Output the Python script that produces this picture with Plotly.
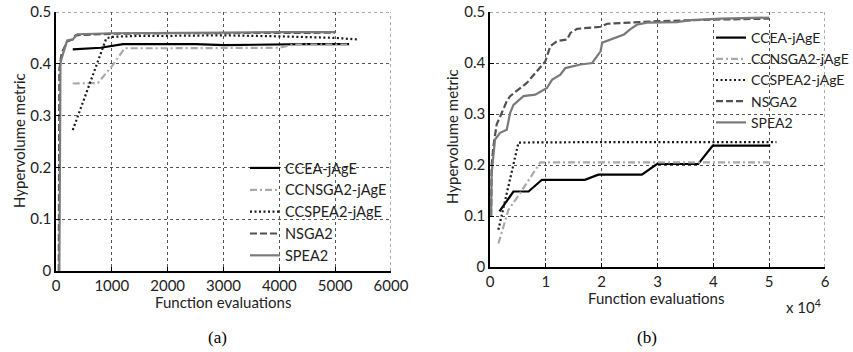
import plotly.graph_objects as go

# ---- data: panel (a) ----
ccea_a_x = [300, 800, 1200, 2000, 2500, 3000, 3500, 4000, 4500, 5250]
ccea_a_y = [0.428, 0.431, 0.438, 0.438, 0.438, 0.436, 0.437, 0.437, 0.438, 0.438]
ccnsga2_a_x = [300, 750, 1000, 1230, 2000, 3000, 4000, 4250, 5250]
ccnsga2_a_y = [0.362, 0.363, 0.395, 0.430, 0.430, 0.430, 0.431, 0.437, 0.437]
ccspea2_a_x = [300, 900, 1000, 1500, 2000, 3000, 4000, 5000, 5400]
ccspea2_a_y = [0.272, 0.449, 0.452, 0.454, 0.454, 0.455, 0.453, 0.450, 0.447]
nsga2_a_x = [50, 60, 100, 150, 200, 300, 350, 500, 1000, 2000, 3000, 4000, 5000]
nsga2_a_y = [0.0, 0.39, 0.42, 0.43, 0.443, 0.447, 0.455, 0.456, 0.458, 0.459, 0.459, 0.459, 0.460]
spea2_a_x = [60, 80, 100, 200, 300, 380, 1000, 2000, 3000, 4000, 5000]
spea2_a_y = [0.0, 0.40, 0.41, 0.445, 0.447, 0.457, 0.459, 0.459, 0.460, 0.461, 0.461]

# ---- data: panel (b) ----
ccea_b_x = [1700, 4200, 6900, 9300, 17000, 19400, 27200, 29900, 37300, 39900, 50200]
ccea_b_y = [0.109, 0.148, 0.148, 0.171, 0.171, 0.181, 0.181, 0.202, 0.202, 0.238, 0.238]
ccnsga2_b_x = [1500, 3300, 5400, 9000, 20000, 30000, 40000, 50200]
ccnsga2_b_y = [0.046, 0.112, 0.145, 0.205, 0.205, 0.205, 0.205, 0.205]
ccspea2_b_x = [1500, 5100, 20000, 40000, 51300]
ccspea2_b_y = [0.073, 0.244, 0.245, 0.245, 0.245]
nsga2_b_x = [200, 300, 600, 1200, 2100, 3000, 3600, 4800, 6600, 8400, 9900, 10800,
             12000, 13800, 14400, 15600, 19800, 21000, 30000, 40000, 50000]
nsga2_b_y = [0.10, 0.20, 0.236, 0.28, 0.302, 0.325, 0.335, 0.345, 0.361, 0.384, 0.403, 0.433,
             0.443, 0.446, 0.459, 0.467, 0.471, 0.477, 0.482, 0.485, 0.487]
spea2_b_x = [200, 300, 900, 1800, 3000, 3600, 4200, 6000, 8100, 10200, 11100, 12600, 13500,
             16200, 18300, 19800, 20100, 22200, 24000, 25100, 26300, 28100, 33500, 35900,
             41300, 50000]
spea2_b_y = [0.10, 0.184, 0.25, 0.263, 0.269, 0.302, 0.318, 0.335, 0.338, 0.351, 0.367, 0.377,
             0.39, 0.397, 0.40, 0.423, 0.44, 0.448, 0.456, 0.466, 0.475, 0.479, 0.48, 0.484,
             0.487, 0.489]

names = ["CCEA-jAgE", "CCNSGA2-jAgE", "CCSPEA2-jAgE", "NSGA2", "SPEA2"]
x_ticks_a = [0, 1000, 2000, 3000, 4000, 5000, 6000]
x_ticks_b = [0, 10000, 20000, 30000, 40000, 50000, 60000]
x_ticktext_b = ["0", "1", "2", "3", "4", "5", "6"]
y_ticks = [0, 0.1, 0.2, 0.3, 0.4, 0.5]
y_ticktext = ["0", "0.1", "0.2", "0.3", "0.4", "0.5"]

styles = [
    dict(color="#000000", width=2.2, dash="solid"),
    dict(color="#a9a9a9", width=2.2, dash="7px,3px,2px,3px"),
    dict(color="#1a1a1a", width=2.2, dash="2px,2.5px"),
    dict(color="#505050", width=2.2, dash="7px,3px"),
    dict(color="#7a7a7a", width=2.2, dash="solid"),
]

FONT = "Lato"
TXT = "#222"
W, H = 853, 352

fig = go.Figure()
data_a = [(ccea_a_x, ccea_a_y), (ccnsga2_a_x, ccnsga2_a_y), (ccspea2_a_x, ccspea2_a_y),
          (nsga2_a_x, nsga2_a_y), (spea2_a_x, spea2_a_y)]
data_b = [(ccea_b_x, ccea_b_y), (ccnsga2_b_x, ccnsga2_b_y), (ccspea2_b_x, ccspea2_b_y),
          (nsga2_b_x, nsga2_b_y), (spea2_b_x, spea2_b_y)]

for (x, y), n, s in zip(data_a, names, styles):
    fig.add_trace(go.Scatter(x=x, y=y, name=n, mode="lines", line=s,
                             xaxis="x", yaxis="y", legend="legend"))
for (x, y), n, s in zip(data_b, names, styles):
    fig.add_trace(go.Scatter(x=x, y=y, name=n, mode="lines", line=s,
                             xaxis="x2", yaxis="y2", legend="legend2"))

axis_common = dict(showline=True, linecolor="#000", linewidth=1.5, mirror=False,
                   ticks="inside", ticklen=4, tickcolor="#000", automargin=False,
                   showgrid=True, gridcolor="#555", griddash="dot", gridwidth=1,
                   zeroline=False, tickfont=dict(family=FONT, size=15, color=TXT))

grid_line = dict(color="#555", width=1, dash="dot")
shapes = [
    dict(type="line", xref="x", yref="y", x0=0, x1=6000, y0=0.5, y1=0.5, line=grid_line, layer="below"),
    dict(type="line", xref="x", yref="y", x0=6000, x1=6000, y0=0, y1=0.5, line=grid_line, layer="below"),
    dict(type="line", xref="x2", yref="y2", x0=0, x1=60000, y0=0.5, y1=0.5, line=grid_line, layer="below"),
    dict(type="line", xref="x2", yref="y2", x0=60000, x1=60000, y0=0, y1=0.5, line=grid_line, layer="below"),
]

def ann(text, px, py, size=15, family=FONT, angle=0, color=TXT):
    return dict(text=text, x=px / W, y=1 - py / H, xref="paper", yref="paper",
                showarrow=False, textangle=angle, xanchor="center", yanchor="middle",
                font=dict(family=family, size=size, color=color))

fig.update_layout(
    width=W, height=H, margin=dict(l=0, r=0, t=0, b=0, pad=0, autoexpand=False),
    paper_bgcolor="white", plot_bgcolor="white",
    font=dict(family=FONT, size=15, color=TXT),
    xaxis=dict(domain=[56 / W, 391 / W], range=[0, 6000], tickvals=x_ticks_a,
               anchor="y", **axis_common),
    yaxis=dict(domain=[1 - 271 / H, 1 - 12 / H], range=[0, 0.5], tickvals=y_ticks,
               ticktext=y_ticktext, anchor="x", **axis_common),
    xaxis2=dict(domain=[490 / W, 825 / W], range=[0, 60000], tickvals=x_ticks_b,
                ticktext=x_ticktext_b, anchor="y2", **axis_common),
    yaxis2=dict(domain=[1 - 267 / H, 1 - 12 / H], range=[0, 0.5], tickvals=y_ticks,
                ticktext=y_ticktext, anchor="x2", **axis_common),
    legend=dict(x=245 / W, y=1 - 152 / H, xanchor="left", yanchor="top",
                bgcolor="rgba(0,0,0,0)", borderwidth=0,
                font=dict(family=FONT, size=14.5, color=TXT),
                itemwidth=30, tracegroupgap=0),
    legend2=dict(x=711 / W, y=1 - 22 / H, xanchor="left", yanchor="top",
                 bgcolor="rgba(0,0,0,0)", borderwidth=0,
                 font=dict(family=FONT, size=14, color=TXT),
                 itemwidth=30, tracegroupgap=0),
    showlegend=True,
    shapes=shapes,
    annotations=[
        ann("Function evaluations", 223, 302),
        ann("Function evaluations", 656, 298),
        ann("Hypervolume metric", 19, 141, angle=-90),
        ann("Hypervolume metric", 452, 137, angle=-90),
        ann("x 10<sup>4</sup>", 803, 306),
        ann("(a)", 217, 337, size=17, family="Liberation Serif", color="#000"),
        ann("(b)", 647, 337, size=17, family="Liberation Serif", color="#000"),
    ],
)

fig.write_html("out.html", config={"displayModeBar": False},
               post_script="document.body.style.margin='0';document.body.style.padding='0';")
